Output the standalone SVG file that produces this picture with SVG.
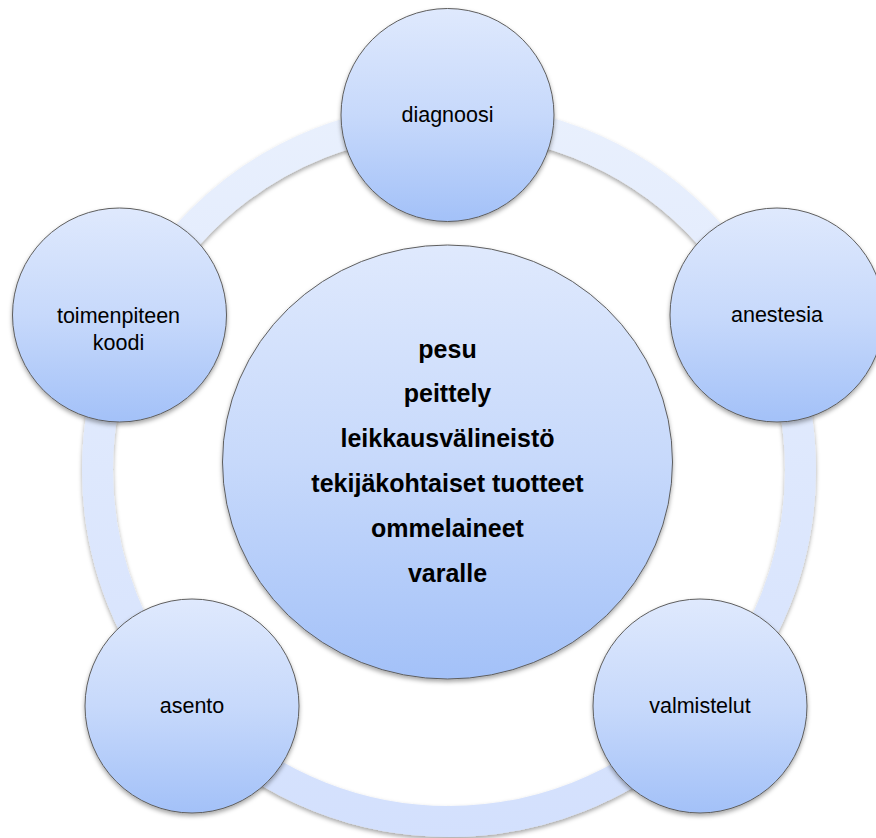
<svg xmlns="http://www.w3.org/2000/svg" width="876" height="838" viewBox="0 0 876 838">
<defs>
<linearGradient id="gNode" x1="0" y1="0" x2="0" y2="1">
<stop offset="0" stop-color="#dfe9fd"/>
<stop offset="0.5" stop-color="#c7d9fb"/>
<stop offset="1" stop-color="#a3c1f8"/>
</linearGradient>
<linearGradient id="gRing" gradientUnits="userSpaceOnUse" x1="0" y1="103" x2="0" y2="837">
<stop offset="0" stop-color="#e9f0fd"/>
<stop offset="1" stop-color="#d3e0fd"/>
</linearGradient>
<filter id="shadow" x="-10%" y="-10%" width="120%" height="125%">
<feDropShadow dx="0" dy="2.5" stdDeviation="2" flood-color="#000" flood-opacity="0.35"/>
</filter>
</defs>
<style>
.node{fill:url(#gNode);stroke:#5e5e5e;stroke-width:1;filter:url(#shadow)}
.lbl{font-family:"Liberation Sans",Arial,sans-serif;font-size:21.5px;fill:#000;text-anchor:middle}
.big{font-family:"Liberation Sans",Arial,sans-serif;font-size:25px;font-weight:bold;fill:#000;text-anchor:middle}
</style>
<g id="connectors">
<circle cx="449" cy="470" r="351.5" fill="none" stroke="url(#gRing)" stroke-width="31" filter="url(#shadow)"/>
</g>
<g id="center">
<ellipse class="node" cx="447.5" cy="462" rx="225" ry="217"/>
<text class="big" x="447.5" y="357.5">pesu</text>
<text class="big" x="447.5" y="402.4">peittely</text>
<text class="big" x="447.5" y="447.3">leikkausvälineistö</text>
<text class="big" x="447.5" y="492.2">tekijäkohtaiset tuotteet</text>
<text class="big" x="447.5" y="537.1">ommelaineet</text>
<text class="big" x="447.5" y="582">varalle</text>
</g>
<g id="diagnoosi">
<circle class="node" cx="447.5" cy="115" r="106.5"/>
<text class="lbl" x="447.5" y="122">diagnoosi</text>
</g>
<g id="anestesia">
<circle class="node" cx="777" cy="315" r="107"/>
<text class="lbl" x="777" y="321.5">anestesia</text>
</g>
<g id="valmistelut">
<circle class="node" cx="700" cy="706" r="107"/>
<text class="lbl" x="700" y="712.5">valmistelut</text>
</g>
<g id="asento">
<circle class="node" cx="192" cy="706" r="107"/>
<text class="lbl" x="192" y="713">asento</text>
</g>
<g id="toimenpiteen-koodi">
<circle class="node" cx="119.5" cy="315" r="107"/>
<text class="lbl" x="118.5" y="322.5">toimenpiteen</text>
<text class="lbl" x="118.5" y="350">koodi</text>
</g>
</svg>
